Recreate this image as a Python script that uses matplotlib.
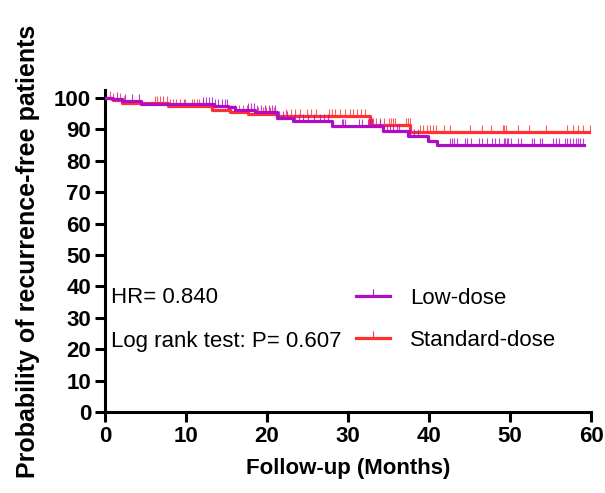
import numpy as np
import matplotlib
matplotlib.use("Agg")
import matplotlib.pyplot as plt
from matplotlib.lines import Line2D

plt.rcParams['font.family'] = ['Liberation Sans', 'DejaVu Sans']

# ── Kaplan-Meier step data (months, % recurrence-free) ──────────────────
low_t = [0, 0.8, 2.1, 4.5, 10.5, 13.5, 15.2, 16.0, 18.5, 21.2, 23.2, 28.0,
         34.3, 37.4, 39.9, 41.0]
low_s = [100, 99.5, 98.9, 98.2, 97.9, 97.5, 97.1, 96.2, 95.5, 93.6, 92.6,
         91.2, 89.6, 87.9, 86.3, 84.9]
low_end = 59.1

std_t = [0, 1.0, 2.1, 7.8, 13.2, 15.4, 17.6, 21.2, 32.7, 37.7]
std_s = [100, 99.4, 98.4, 97.3, 96.0, 95.6, 94.8, 94.3, 91.5, 89.2]
std_end = 59.9

# censored observations
low_cens = [1.5, 2.5, 3.3, 4.2, 12.1, 12.5, 12.8, 13.2, 13.6, 14.0, 14.4, 14.8,
            15.0, 17.6, 18.0, 18.4, 18.8, 19.3, 19.7, 20.2, 20.6, 21.0, 21.5,
            22.0, 22.5, 23.5, 24.0, 24.5, 25.0, 25.8, 26.5, 27.0, 27.5, 29.2,
            29.4, 29.6, 31.3, 31.7, 32.5, 32.7, 32.9, 33.9, 34.8, 35.2, 35.6,
            36.0, 36.3, 37.6, 38.2, 38.6, 42.6, 42.8, 43.1, 43.5, 44.5, 44.7,
            45.2, 46.2, 46.6, 47.2, 47.8, 48.2, 48.6, 49.2, 49.4, 49.6, 49.8,
            50.1, 51.0, 51.4, 52.7, 52.9, 53.7, 54.0, 55.3, 55.7, 56.1, 56.8,
            57.0, 57.4, 57.8, 58.2, 58.4, 58.6, 59.0]
std_cens = [0.6, 1.0, 1.8, 2.4, 6.2, 6.4, 6.8, 7.2, 7.6, 8.0, 8.4, 8.8, 9.3,
            9.7, 9.9, 10.7, 11.0, 11.3, 11.6, 12.1, 15.6, 16.0, 16.5, 17.0,
            17.5, 18.9, 19.5, 19.9, 20.4, 20.8, 22.4, 23.0, 23.4, 24.1, 24.9,
            25.4, 26.1, 27.6, 28.0, 28.4, 29.0, 29.6, 30.2, 30.6, 31.1, 31.6,
            32.1, 32.9, 33.1, 33.5, 33.9, 34.4, 35.1, 35.3, 35.6, 35.8, 37.2,
            37.4, 37.6, 38.9, 39.3, 39.7, 40.1, 40.5, 40.9, 41.8, 42.6, 45.1,
            46.6, 47.7, 49.1, 49.3, 49.5, 51.0, 52.3, 54.5, 57.0, 57.8, 58.4,
            59.0, 59.9]

PURPLE = "#B00CC8"
RED = "#FF3030"


def at(times, surv, x):
    idx = np.searchsorted(times, x, side="right") - 1
    return np.asarray(surv)[idx]


fig = plt.figure(figsize=(6.05, 4.93), dpi=100)
ax = fig.add_axes([0.1736, 0.1643, 0.8033, 0.6531])

for t, s, end, cens, col in [(std_t, std_s, std_end, std_cens, RED),
                              (low_t, low_s, low_end, low_cens, PURPLE)]:
    ax.step(t + [end], s + [s[-1]], where="post", color=col, lw=2.3, zorder=3)
    ax.plot(cens, at(t, s, cens), ls="none", marker=2, ms=5, mew=0.8,
            color=col, alpha=0.8, zorder=3)

ax.text(0.75, 36.4, "HR= 0.840", fontsize=16, va="center")
ax.text(0.75, 22.4, "Log rank test: P= 0.607", fontsize=16, va="center")

handles = [Line2D([], [], color=PURPLE, lw=2.3, marker=2, ms=5, mew=0.8),
           Line2D([], [], color=RED, lw=2.3, marker=2, ms=5, mew=0.8)]
ax.legend(handles, ["Low-dose", "Standard-dose"], loc="center left",
          bbox_to_anchor=(0.516, 0.287), frameon=False, fontsize=16,
          handlelength=1.55, handletextpad=0.9, labelspacing=0.95,
          borderpad=0, borderaxespad=0, numpoints=1)

ax.set_xlim(0, 60)
ax.set_ylim(0, 102.5)
ax.set_xticks(range(0, 61, 10))
ax.set_yticks(range(0, 101, 10))
ax.spines["top"].set_visible(False)
ax.spines["right"].set_visible(False)
for sp in ["left", "bottom"]:
    ax.spines[sp].set_linewidth(2.2)
ax.tick_params(width=2.2, length=7, pad=3, labelsize=16)
for lab in ax.get_xticklabels() + ax.get_yticklabels():
    lab.set_fontweight("bold")

ax.set_xlabel("Follow-up (Months)", fontsize=16, fontweight="bold", labelpad=8)
ax.set_ylabel("Probability of recurrence-free patients", fontsize=18,
              fontweight="bold", labelpad=10)

fig.savefig("out.png", dpi=100)
